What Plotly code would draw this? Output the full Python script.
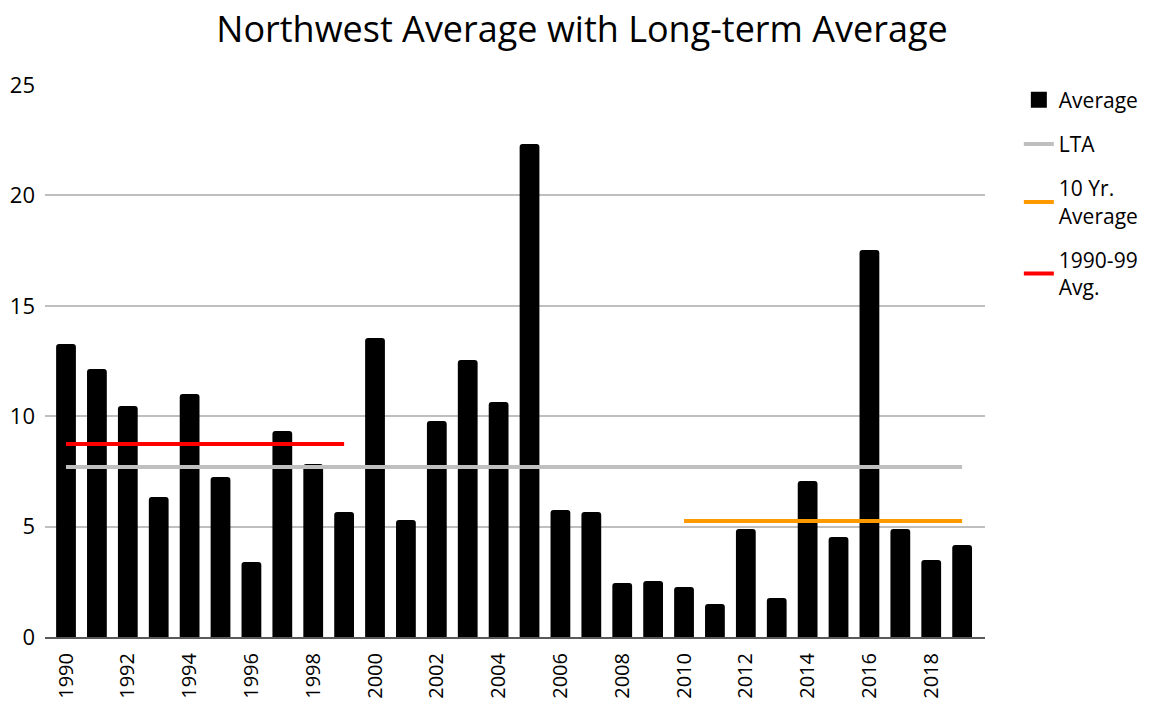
import plotly.graph_objects as go

years = list(range(1990, 2020))
values = [13.27, 12.14, 10.46, 6.34, 11.0, 7.25, 3.40, 9.33, 7.83, 5.66,
          13.54, 5.30, 9.78, 12.55, 10.64, 22.33, 5.75, 5.66, 2.45, 2.54,
          2.26, 1.49, 4.89, 1.77, 7.07, 4.53, 17.53, 4.89, 3.49, 4.17]
lta_value = 7.70
ten_yr_value = 5.25
nineties_value = 8.74
ten_yr_years = [2010, 2019]
nineties_years = [1990, 1999]
lta_years = [1990, 2019]
tick_years = list(range(1990, 2020, 2))

font_family = "Open Sans, DejaVu Sans, sans-serif"

fig = go.Figure()
fig.add_trace(go.Bar(x=years, y=values, name="Average", marker=dict(color="black", line=dict(width=0)),
                     width=0.64, showlegend=False))
# legend entry for bars (large square swatch)
fig.add_trace(go.Scatter(x=[None], y=[None], mode="markers", name="Average", legendgroup="a",
                         marker=dict(symbol="square", size=22, color="black")))
fig.add_trace(go.Scatter(x=lta_years, y=[lta_value, lta_value], mode="lines", name="LTA", legendgroup="b",
                         line=dict(color="#BFBFBF", width=4)))
fig.add_trace(go.Scatter(x=ten_yr_years, y=[ten_yr_value, ten_yr_value], mode="lines", name="10 Yr.<br>Average",
                         legendgroup="c", line=dict(color="#FF9900", width=4)))
fig.add_trace(go.Scatter(x=nineties_years, y=[nineties_value, nineties_value], mode="lines", name="1990-99<br>Avg.",
                         legendgroup="d", line=dict(color="#FF0000", width=4)))

fig.update_layout(
    width=1148, height=694,
    margin=dict(l=37, r=166, t=77, b=65),
    paper_bgcolor="white", plot_bgcolor="white",
    barcornerradius=3,
    title=dict(text="Northwest Average with Long-term Average", x=0.5, xanchor="center", y=0.969, yanchor="middle",
               font=dict(family=font_family, size=36, color="black")),
    font=dict(family=font_family, size=22, color="black"),
    xaxis=dict(range=[1989.32, 2019.74], tickmode="array", tickvals=tick_years, ticktext=[str(y) for y in tick_years],
               tickangle=-90, showgrid=False, showline=True, linecolor="#595959", linewidth=2, ticks="",
               tickfont=dict(size=20), ticklabelstandoff=6, automargin=False),
    yaxis=dict(range=[0, 25], dtick=5, showgrid=True, gridcolor="#BFBFBF", gridwidth=2, zeroline=False,
               ticks="", tickfont=dict(size=22), ticklabelstandoff=9, automargin=False),
    legend=dict(x=1.036, y=1.01, xanchor="left", yanchor="top", font=dict(size=21), tracegroupgap=14,
                itemwidth=30, bgcolor="rgba(0,0,0,0)"),
    showlegend=True,
)

fig.write_html("out.html")
